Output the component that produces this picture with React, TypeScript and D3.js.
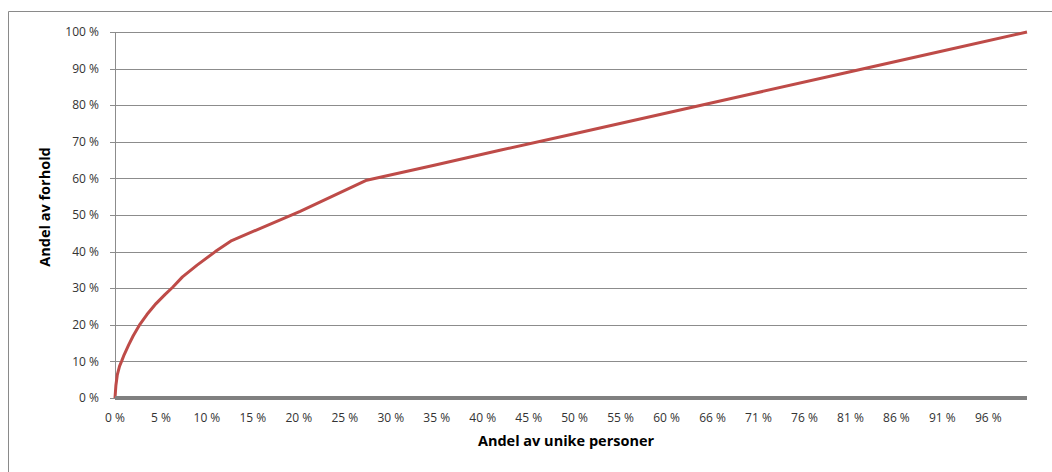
import React from "react";
import * as d3 from "d3";

// andel av unike personer (%) / andel av forhold (%)
const xValues = [0, 0.1, 0.25, 0.5, 0.75, 1, 1.5, 2, 2.75, 3.5, 4.5, 5.5, 6.3, 7.4, 9, 11, 12.8, 20.3, 27.6, 35, 42.2, 50, 60, 70, 80, 90, 100];
const yValues = [0, 3.5, 6.3, 8.7, 10.2, 11.8, 14.5, 17, 20.2, 22.8, 25.8, 28.3, 30.2, 33.1, 36.3, 40, 43, 51, 59.5, 63.6, 67.7, 72.0, 77.6, 83.2, 88.8, 94.4, 100];

const yTicks = [0, 10, 20, 30, 40, 50, 60, 70, 80, 90, 100];
const xTickLabels = ["0 %", "5 %", "10 %", "15 %", "20 %", "25 %", "30 %", "35 %", "40 %", "45 %", "50 %", "55 %", "60 %", "66 %", "71 %", "76 %", "81 %", "86 %", "91 %", "96 %"];
const xTickStep = 5.04; // category labels every 6th point

const W = 1052, H = 472;
const m = { left: 115, right: 1027, top: 32, bottom: 398 };
const font = "'Open Sans', Lato, sans-serif";

export default function App() {
  const x = d3.scaleLinear().domain([0, 100]).range([m.left, m.right]);
  const y = d3.scaleLinear().domain([0, 100]).range([m.bottom, m.top]);
  const pts: [number, number][] = xValues.map((v, i) => [v, yValues[i]]);
  const line = d3.line<[number, number]>()
    .x(d => x(d[0]))
    .y(d => y(d[1]));

  return (
    <div style={{ position: "absolute", left: 0, top: 0 }}>
      <svg width={W} height={H} style={{ display: "block", background: "#fff" }}>
        {/* chart frame */}
        <path d={`M8.5,${H} V11.5 H${W}`} fill="none" stroke="#8a8a8a" />

        {/* grid */}
        {yTicks.map(t => (
          <g key={t}>
            {t > 0 && (
              <line x1={m.left} x2={m.right} y1={Math.round(y(t)) + 0.5} y2={Math.round(y(t)) + 0.5} stroke="#8c8c8c" />
            )}
            <line x1={m.left - 5} x2={m.left} y1={Math.round(y(t)) + 0.5} y2={Math.round(y(t)) + 0.5} stroke="#8c8c8c" />
            <text x={99} y={y(t)} dy="0.35em" textAnchor="end" fontFamily={font} fontSize={12} fill="#333">
              {t} %
            </text>
          </g>
        ))}
        <line x1={m.left + 0.5} x2={m.left + 0.5} y1={m.top} y2={m.bottom} stroke="#8c8c8c" />

        {/* x labels */}
        {xTickLabels.map((l, i) => (
          <text key={l} x={x(i * xTickStep)} y={422} textAnchor="middle" fontFamily={font} fontSize={12} fill="#333">
            {l}
          </text>
        ))}

        {/* curve */}
        <path d={line(pts) || ""} fill="none" stroke="#be4b48" strokeWidth={3} strokeLinejoin="round" />

        {/* thick x axis */}
        <line x1={m.left} x2={m.right} y1={m.bottom} y2={m.bottom} stroke="#808080" strokeWidth={4} />

        {/* axis titles */}
        <text x={566} y={446} textAnchor="middle" fontFamily={font} fontSize={14.5} fontWeight="bold" fill="#000">
          Andel av unike personer
        </text>
        <text transform="translate(50,207) rotate(-90)" textAnchor="middle" fontFamily={font} fontSize={14.5} fontWeight="bold" fill="#000">
          Andel av forhold
        </text>
      </svg>
    </div>
  );
}
